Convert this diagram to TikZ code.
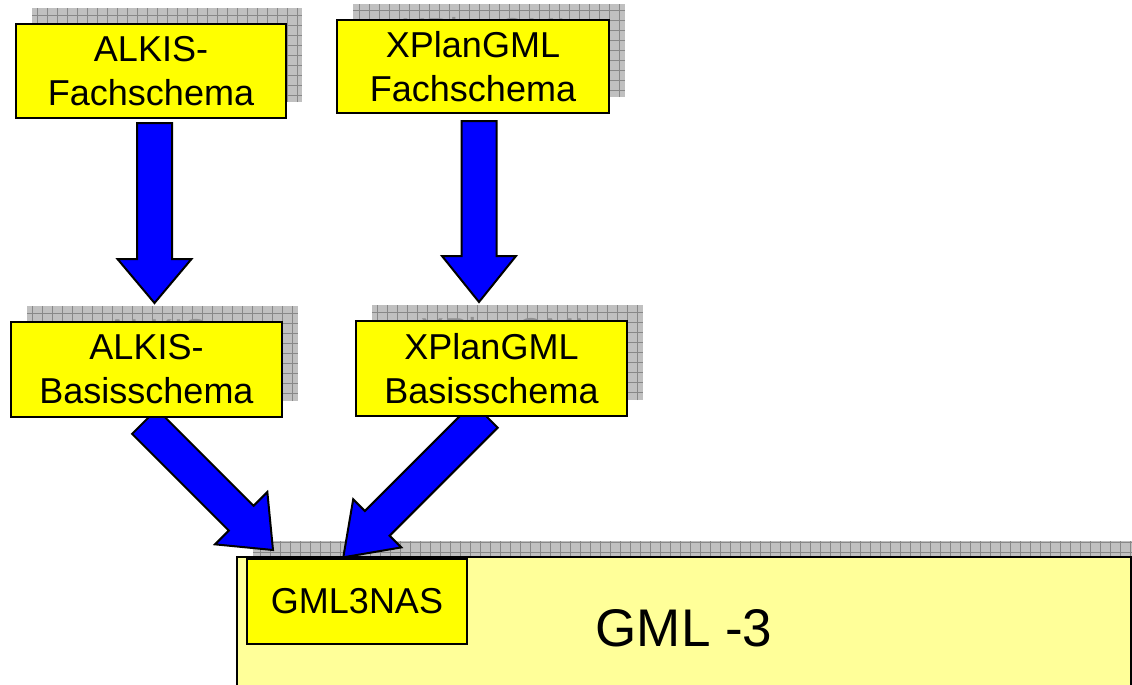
\documentclass[tikz,border=0pt]{standalone}
\usepackage{fontspec}
\setmainfont{Liberation Sans}
\usetikzlibrary{calc}
\definecolor{boxyellow}{HTML}{FFFF00}
\definecolor{paleyellow}{HTML}{FFFF99}
\definecolor{arrowblue}{HTML}{0000FF}
\definecolor{shadowgray}{HTML}{C0C0C0}
\definecolor{gridgray}{HTML}{888888}
\definecolor{shadowtext}{HTML}{909090}
\newcommand\blockarr[4]{% start, tip, head half width, head length
  \coordinate (#1-#2-b) at ($(#2)!#4pt!(#1)$);
  \filldraw[blockarrow] ($(#1)!17.5pt!90:(#2)$) -- ($(#1-#2-b)!17.5pt!90:(#2)$)
    -- ($(#1-#2-b)!#3pt!90:(#2)$) -- (#2) -- ($(#1-#2-b)!#3pt!-90:(#2)$)
    -- ($(#1-#2-b)!17.5pt!-90:(#2)$) -- ($(#1)!17.5pt!-90:(#2)$) -- cycle;}
\begin{document}
\begin{tikzpicture}[x=1pt,y=-1pt,
  schema/.style={draw=black,line width=2pt,fill=boxyellow,inner sep=0pt,align=center,
    font=\fontsize{36}{44}\selectfont},
  shadowbox/.style={draw=none,fill=shadowgray,inner sep=0pt,align=center,text=shadowtext,
    font=\fontsize{36}{44}\selectfont,
    path picture={\draw[gridgray,line width=0.8pt] (path picture bounding box.south west)
      grid[step=10pt] (path picture bounding box.north east);}},
  shadowtitle/.style={inner sep=0pt,text=shadowtext,font=\fontsize{36}{44}\selectfont},
  blockarrow/.style={fill=arrowblue,draw=black,line width=2pt,line join=miter}]
\useasboundingbox (0,0) rectangle (1132,685);

% GML-3 base
\node[shadowbox,minimum width=894pt,minimum height=142pt] (gml3shadow) at (700,612) {};
\node[schema,fill=paleyellow,minimum width=894pt,minimum height=142pt,
  font=\fontsize{53}{60}\selectfont] (gml3) at (684,628) {GML -3};
\node[schema,minimum width=220pt,minimum height=85pt,font=\fontsize{36}{42}\selectfont]
  (nas) at (357,601.5) {GML3NAS};

% shadows (copies of the boxes, offset up-right; only their top line peeks out)
\node[shadowbox,minimum width=270pt,minimum height=94pt] (s1) at (167,55) {};
\node[shadowtitle] (s1t) at (167,36) {ALKIS-};
\node[shadowbox,minimum width=272pt,minimum height=93pt] (s2) at (489,50.5) {};
\node[shadowtitle] (s2t) at (489,31) {XPlanGML};
\node[shadowbox,minimum width=271pt,minimum height=95pt] (s3) at (162.5,353.5) {};
\node[shadowtitle] (s3t) at (162.5,332) {ALKIS-};
\node[shadowbox,minimum width=271pt,minimum height=95pt] (s4) at (507.5,352.5) {};
\node[shadowtitle] (s4t) at (507.5,331) {XPlanGML};

% upper boxes
\node[schema,minimum width=270pt,minimum height=94pt] (alkisF) at (151,71) {ALKIS-\\Fachschema};
\node[schema,minimum width=272pt,minimum height=93pt] (xplanF) at (473,66.5) {XPlanGML\\Fachschema};

% arrows
\coordinate (a1s) at (154.5,123);
\coordinate (a1t) at (154.5,303);
\coordinate (a2s) at (479,121);
\coordinate (a2t) at (479,302);
\coordinate (a3s) at (144.5,421.5);
\coordinate (a3t) at (273,550);
\coordinate (a4s) at (485.3,415.3);
\coordinate (a4t) at (343.3,557.3);
\blockarr{a1s}{a1t}{37}{44}
\blockarr{a2s}{a2t}{37}{46}
\blockarr{a3s}{a3t}{37}{45}
\blockarr{a4s}{a4t}{34}{48}

% middle boxes
\node[schema,minimum width=271pt,minimum height=95pt] (alkisB) at (146.5,369.5) {ALKIS-\\Basisschema};
\node[schema,minimum width=271pt,minimum height=95pt] (xplanB) at (491.5,368.5) {XPlanGML\\Basisschema};
\end{tikzpicture}
\end{document}
